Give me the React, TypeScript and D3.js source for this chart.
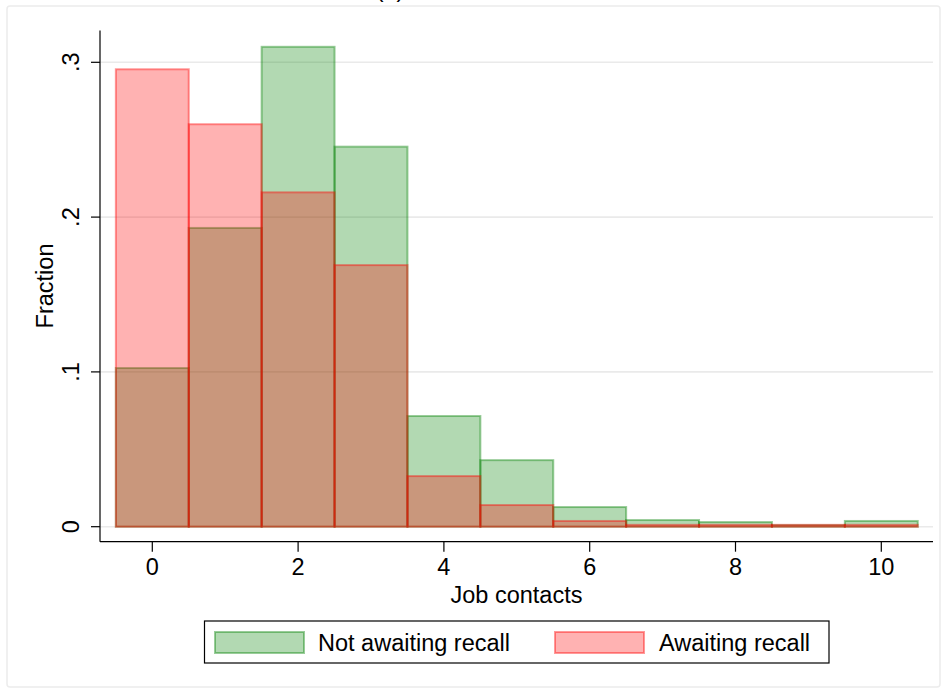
import React from "react";
import * as d3 from "d3";

const bins: number[] = [0, 1, 2, 3, 4, 5, 6, 7, 8, 9, 10];
const notAwaiting: number[] = [0.1025, 0.193, 0.31, 0.2455, 0.0715, 0.043, 0.0127, 0.0043, 0.003, 0.001, 0.0037];
const awaiting: number[] = [0.2955, 0.26, 0.216, 0.169, 0.0327, 0.014, 0.0037, 0.0012, 0.0012, 0.0012, 0.0012];
const xTicks: number[] = [0, 2, 4, 6, 8, 10];
const yTicks: number[] = [0, 0.1, 0.2, 0.3];
const yTickLabels: string[] = ["0", ".1", ".2", ".3"];
const seriesNames: string[] = ["Not awaiting recall", "Awaiting recall"];

const W = 946;
const H = 693;
const FONT = "'Liberation Sans', Arial, Helvetica, sans-serif";
const FS = 23.5;

export default function App() {
  const x = d3.scaleLinear().domain([0, 10]).range([152.3, 881.3]);
  const y = d3.scaleLinear().domain([0, 0.3]).range([526.7, 62.3]);
  const plotLeft = 100;
  const plotRight = 933;
  const axisY = 541.7;
  const axisTop = 30.5;

  const GREEN = "rgb(0,128,0)";
  const RED = "rgb(255,0,0)";

  const bar = (vals: number[], color: string, key: string) =>
    bins.map((b, i) => (
      <rect
        key={key + i}
        x={x(b - 0.5)}
        y={y(vals[i])}
        width={x(b + 0.5) - x(b - 0.5)}
        height={y(0) - y(vals[i])}
        fill={color}
        fillOpacity={0.3}
        stroke={color}
        strokeOpacity={0.4}
        strokeWidth={2}
      />
    ));

  return (
    <svg
      width={W}
      height={H}
      style={{ position: "absolute", left: 0, top: 0, background: "#fff" }}
      fontFamily={FONT}
    >
      <rect x={0} y={0} width={W} height={H} fill="#fff" />
      <rect x={7} y={6} width={933} height={681} fill="none" stroke="#ececec" strokeWidth={1.5} rx={3} />
      <text x={390} y={-3} textAnchor="middle" fontSize={FS} fill="#000">(a)</text>

      {yTicks.map((t, i) => (
        <line key={"g" + i} x1={plotLeft} x2={plotRight} y1={y(t)} y2={y(t)} stroke="#eaeaea" strokeWidth={1.6} />
      ))}

      {bar(notAwaiting, GREEN, "n")}
      {bar(awaiting, RED, "a")}

      <line x1={plotLeft} x2={plotLeft} y1={axisTop} y2={axisY} stroke="#000" strokeWidth={1.2} />
      <line x1={plotLeft} x2={plotRight} y1={axisY} y2={axisY} stroke="#000" strokeWidth={1.2} />

      {yTicks.map((t, i) => (
        <g key={"yt" + i}>
          <line x1={plotLeft - 9} x2={plotLeft} y1={y(t)} y2={y(t)} stroke="#000" strokeWidth={1.2} />
          <text
            transform={`translate(79,${y(t)}) rotate(-90)`}
            textAnchor="middle"
            fontSize={FS}
            fill="#000"
          >
            {yTickLabels[i]}
          </text>
        </g>
      ))}
      {xTicks.map((t, i) => (
        <g key={"xt" + i}>
          <line x1={x(t)} x2={x(t)} y1={axisY} y2={axisY + 10} stroke="#000" strokeWidth={1.2} />
          <text x={x(t)} y={575} textAnchor="middle" fontSize={FS} fill="#000">
            {t}
          </text>
        </g>
      ))}

      <text x={(plotLeft + plotRight) / 2} y={603} textAnchor="middle" fontSize={FS} fill="#000">
        Job contacts
      </text>
      <text transform={`translate(53,286) rotate(-90)`} textAnchor="middle" fontSize={FS} fill="#000">
        Fraction
      </text>

      <rect x={204.5} y={621} width={624.5} height={42} fill="#fff" stroke="#000" strokeWidth={1.2} />
      <rect x={215} y={632} width={89} height={21} fill={GREEN} fillOpacity={0.3} stroke={GREEN} strokeOpacity={0.4} strokeWidth={2} />
      <text x={318} y={650.5} fontSize={FS} fill="#000">{seriesNames[0]}</text>
      <rect x={555} y={632} width={89} height={21} fill={RED} fillOpacity={0.3} stroke={RED} strokeOpacity={0.4} strokeWidth={2} />
      <text x={659} y={650.5} fontSize={FS} fill="#000">{seriesNames[1]}</text>
    </svg>
  );
}
